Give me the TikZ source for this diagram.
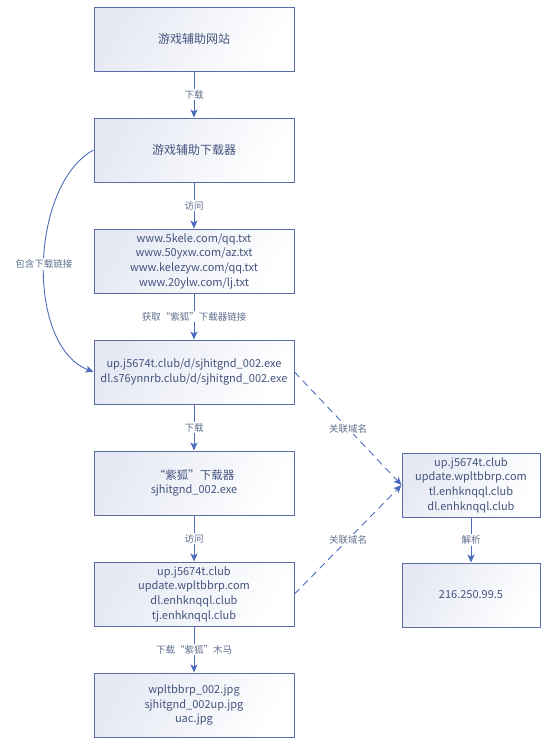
\documentclass[tikz,border=0pt]{standalone}
\usepackage{fontspec}
\setmainfont{Noto Sans CJK SC}
\usetikzlibrary{arrows.meta,positioning}
\definecolor{boxline}{HTML}{5A6BA5}
\definecolor{boxfill}{HTML}{E6E9F4}
\definecolor{arrowc}{HTML}{4A6EBD}
\definecolor{txt}{HTML}{44547E}
\definecolor{lbl}{HTML}{5F6E8E}
\tikzset{
  box/.style={draw=boxline, line width=1pt, shading=axis, left color=boxfill, right color=white, shading angle=60,
    minimum width=200pt, minimum height=64pt, text=txt, font=\fontsize{11}{14.7}\selectfont, align=center, inner sep=2pt},
  rbox/.style={box, minimum width=138pt},
  big/.style={font=\fontsize{12}{15}\selectfont},
  flow/.style={draw=arrowc, line width=0.9pt, -{Stealth[length=8pt,width=7pt,inset=2pt]}},
  dflow/.style={flow, dash pattern=on 7pt off 5pt},
  elabel/.style={fill=white, text=lbl, font=\fontsize{9.5}{11}\selectfont, inner sep=1.5pt}
}
\begin{document}
\begin{tikzpicture}[x=1pt,y=-1pt]
\useasboundingbox (0,0) rectangle (551,748);
\fill[white] (0,0) rectangle (551,748);
\node[box, big] (b1) at (194,39) {游戏辅助网站};
\node[box, big] (b2) at (194,150) {游戏辅助下载器};
\node[box] (b3) at (194,261) {www.5kele.com/qq.txt\\www.50yxw.com/az.txt\\www.kelezyw.com/qq.txt\\www.20ylw.com/lj.txt};
\node[box] (b4) at (194,372) {up.j5674t.club/d/sjhitgnd\_002.exe\\dl.s76ynnrb.club/d/sjhitgnd\_002.exe};
\node[box] (b5) at (194,483) {{\fontsize{11.5}{15}\selectfont “紫狐”下载器}\\sjhitgnd\_002.exe};
\node[box] (b6) at (194,594) {up.j5674t.club\\update.wpltbbrp.com\\dl.enhknqql.club\\tj.enhknqql.club};
\node[box] (b7) at (194,705) {wpltbbrp\_002.jpg\\sjhitgnd\_002up.jpg\\uac.jpg};
\node[rbox] (r1) at (471,485) {up.j5674t.club\\update.wpltbbrp.com\\tl.enhknqql.club\\dl.enhknqql.club};
\node[rbox] (r2) at (471,595) {216.250.99.5};

\draw[flow] (b1) -- node[elabel] {下载} (b2);
\draw[flow] (b2) -- node[elabel] {访问} (b3);
\draw[flow] (b3) -- node[elabel] {获取“紫狐”下载器链接} (b4);
\draw[flow] (b4) -- node[elabel] {下载} (b5);
\draw[flow] (b5) -- node[elabel] {访问} (b6);
\draw[flow] (b6) -- node[elabel] {下载“紫狐”木马} (b7);
\draw[flow] (r1) -- node[elabel] {解析} (r2);
\draw[dflow] (b4.east) -- node[elabel] {关联域名} (r1.west);
\draw[dflow] (b6.east) -- node[elabel] {关联域名} (r1.west);
\draw[flow] (b2.west) .. controls (30,185) and (25,345) .. node[elabel, pos=0.5] {包含下载链接} (b4.west);
\end{tikzpicture}
\end{document}
